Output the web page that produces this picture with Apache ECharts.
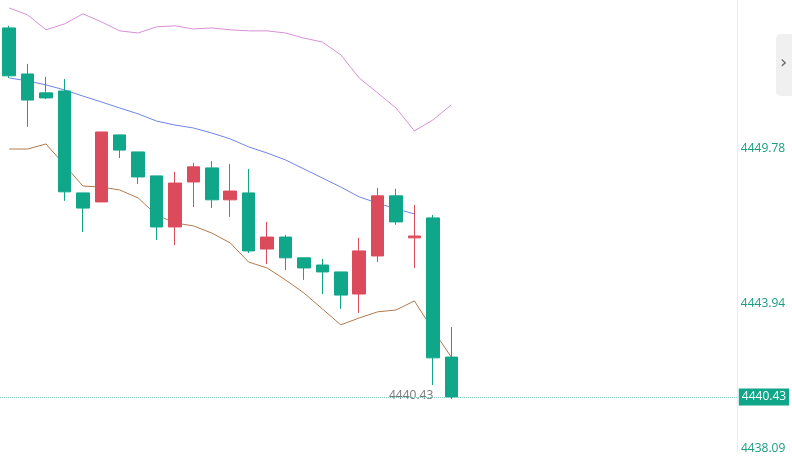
<!DOCTYPE html><html><head><meta charset="utf-8"><script src="https://cdn.jsdelivr.net/npm/echarts@6/dist/echarts.min.js"></script>
<style>html,body{margin:0;padding:0;background:#fff}#c{width:792px;height:456px}</style></head><body><div id="c"></div><script>
const categories = Array.from({length:40},(_,i)=>String(i+1));
// [open, close, low, high]
const candles = [
[4454.30,4452.50,4452.42,4454.38],[4452.57,4451.59,4450.58,4452.95],[4451.86,4451.67,4451.63,4452.46],
[4451.93,4448.14,4447.80,4452.38],[4448.10,4447.53,4446.63,4448.10],[4447.76,4450.39,4447.76,4450.39],
[4450.28,4449.71,4449.41,4450.28],[4449.64,4448.70,4448.44,4449.64],[4448.74,4446.82,4446.33,4448.74],
[4446.82,4448.47,4446.14,4448.89],[4448.51,4449.08,4447.57,4449.23],[4449.04,4447.84,4447.53,4449.30],
[4447.84,4448.17,4447.20,4449.19],[4448.10,4445.92,4445.84,4449.00],[4445.99,4446.44,4445.43,4447.01],
[4446.44,4445.66,4445.20,4446.52],[4445.66,4445.28,4444.83,4445.66],[4445.39,4445.13,4444.30,4445.62],
[4445.13,4444.26,4443.74,4445.13],[4444.30,4445.92,4443.59,4446.41],[4445.73,4447.99,4445.50,4448.29],
[4447.99,4447.01,4446.90,4448.25],[4446.41,4446.48,4445.28,4447.65],[4447.16,4441.90,4440.88,4447.27],
[4441.93,4440.43,4440.35,4443.06]];
const upperBand = [4455.05,4454.79,4454.23,4454.45,4454.83,4454.53,4454.19,4454.11,4454.34,4454.38,4454.26,4454.30,4454.23,4454.19,4454.19,4454.11,4453.92,4453.77,4453.29,4452.42,4451.86,4451.29,4450.43,4450.84,4451.41];
const midBand = [4452.42,4452.31,4452.16,4451.97,4451.74,4451.52,4451.29,4451.07,4450.80,4450.65,4450.54,4450.35,4450.13,4449.83,4449.60,4449.34,4449.00,4448.66,4448.32,4447.95,4447.72,4447.50,4447.31];
const lowerBand = [4449.75,4449.75,4449.94,4449.15,4448.36,4448.32,4448.21,4447.91,4447.27,4446.97,4446.86,4446.59,4446.22,4445.50,4445.28,4444.83,4444.34,4443.74,4443.14,4443.40,4443.63,4443.70,4444.04,4442.95,4441.93];
const tickLabels = [4443.94,4449.78];
const lastPrice = 4440.43;
const bottomLabel = '4438.09';
const G='#0fa68a', R='#db4b5c';
const chart = echarts.init(document.getElementById('c'));
chart.setOption({
  animation:false,
  grid:{left:-6,right:55.2,top:0,bottom:5},
  xAxis:{type:'category',data:categories,boundaryGap:true,axisLine:{show:false},axisTick:{show:false},axisLabel:{show:false},splitLine:{show:false}},
  yAxis:{type:'value',position:'right',min:4438.40,max:4455.35,scale:true,
    axisLine:{show:true,lineStyle:{color:'#ececec'}},axisTick:{show:false},splitLine:{show:false},
    axisLabel:{customValues:tickLabels,color:'#1a9c80',fontSize:12,fontFamily:'Open Sans',margin:4,formatter:v=>v.toFixed(2)}},
  series:[
    {type:'line',data:upperBand,symbol:'none',lineStyle:{color:'#d88fd6',width:1},z:2},
    {type:'line',data:midBand,symbol:'none',lineStyle:{color:'#6f84e4',width:1},z:2},
    {type:'line',data:lowerBand,symbol:'none',lineStyle:{color:'#b07a4e',width:1},z:2},
    {type:'candlestick',data:candles,barWidth:13,z:3,
      itemStyle:{color:R,color0:G,borderColor:R,borderColor0:G,borderWidth:1},
      markLine:{symbol:'none',silent:true,data:[{yAxis:lastPrice}],
        lineStyle:{color:'#7cc9b8',type:'dotted',width:1},
        label:{position:'end',formatter:lastPrice.toFixed(2),color:'#fff',backgroundColor:G,padding:[3,3,2,3],fontSize:12,fontFamily:'Open Sans',distance:2}}}
  ],
  graphic:[
    {type:'text',left:389,top:390,style:{text:lastPrice.toFixed(2),fill:'#777',fontSize:12,fontFamily:'Open Sans'}},
    {type:'text',left:741,top:443,style:{text:bottomLabel,fill:'#1a9c80',fontSize:12,fontFamily:'Open Sans'}},
    {type:'rect',shape:{x:776,y:34,width:20,height:62,r:5},style:{fill:'#f0f0f0'}},
    {type:'text',left:780,top:54,style:{text:'›',fill:'#666',fontSize:18,fontFamily:'DejaVu Sans'}}
  ]
});
</script></body></html>
